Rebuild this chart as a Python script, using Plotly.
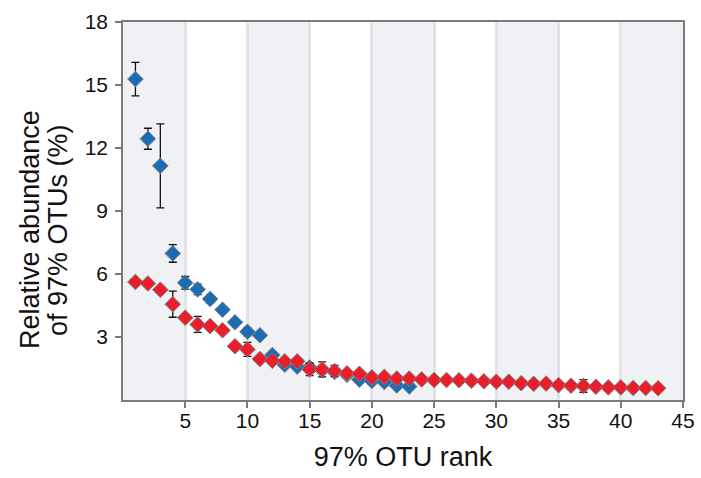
import plotly.graph_objects as go

# ---- data ----
blue_rank = list(range(1, 24))
blue_mean = [15.28, 12.44, 11.15, 6.98, 5.58, 5.27, 4.81, 4.30, 3.70, 3.25, 3.08, 2.14,
             1.68, 1.59, 1.55, 1.42, 1.33, 1.20, 0.97, 0.91, 0.86, 0.69, 0.64]
blue_err = [0.80, 0.50, 2.00, 0.42, 0.30, 0.25, 0.20, 0.15, 0.12, 0.20, 0.15, 0.12,
            0.12, 0.10, 0.12, 0.10, 0.10, 0.08, 0.10, 0.08, 0.08, 0.12, 0.12]

red_rank = list(range(1, 44))
red_mean = [5.62, 5.55, 5.25, 4.56, 3.92, 3.60, 3.52, 3.32, 2.56, 2.41, 1.95, 1.87,
            1.84, 1.84, 1.46, 1.46, 1.38, 1.27, 1.25, 1.08, 1.10, 1.02, 1.02, 0.98,
            0.95, 0.95, 0.94, 0.92, 0.89, 0.87, 0.87, 0.80, 0.77, 0.78, 0.71, 0.68,
            0.67, 0.63, 0.60, 0.60, 0.57, 0.57, 0.56]
red_err = [0.10, 0.10, 0.15, 0.62, 0.12, 0.38, 0.12, 0.10, 0.10, 0.33, 0.10, 0.10,
           0.12, 0.14, 0.30, 0.36, 0.27, 0.10, 0.08, 0.08, 0.08, 0.08, 0.08, 0.06,
           0.06, 0.06, 0.06, 0.06, 0.06, 0.06, 0.06, 0.06, 0.06, 0.10, 0.06, 0.06,
           0.30, 0.06, 0.06, 0.06, 0.06, 0.06, 0.06]

x_ticks = [5, 10, 15, 20, 25, 30, 35, 40, 45]
y_ticks = [3, 6, 9, 12, 15, 18]
y_title_lines = ["Relative abundance", "of 97% OTUs (%)"]
x_title = "97% OTU rank"

BLUE = "#1a6db5"
RED = "#ea1d2a"
AXIS = "#7a7a7a"
BAND = "#f0f1f4"
FONT = "Liberation Sans, Arial, sans-serif"

fig = go.Figure()

def add_series(x, y, e, color):
    fig.add_trace(go.Scatter(
        x=x, y=y, mode="markers",
        marker=dict(symbol="diamond", size=12, color=color,
                    line=dict(color="#808080", width=1)),
        error_y=dict(type="data", array=e, visible=True, color="#111111",
                     thickness=1.3, width=4),
        showlegend=False, cliponaxis=False,
    ))

add_series(blue_rank, blue_mean, blue_err, BLUE)
add_series(red_rank, red_mean, red_err, RED)

# alternating background bands every 5 ranks
edges = [0] + x_ticks
shapes = []
for i in range(len(edges) - 1):
    if i % 2 == 0:
        shapes.append(dict(type="rect", xref="x", yref="paper",
                           x0=edges[i], x1=edges[i + 1], y0=0, y1=1,
                           fillcolor=BAND, line=dict(width=0), layer="below"))

# two-line y title as rotated annotations (tighter line spacing)
annotations = []
for xp, line in zip([-0.166, -0.116], y_title_lines):
    annotations.append(dict(text=line, xref="paper", yref="paper",
                            x=xp, y=0.45, xanchor="center", yanchor="middle",
                            textangle=-90, showarrow=False,
                            font=dict(size=27, family=FONT, color="#111111")))

fig.update_layout(
    width=701, height=478,
    margin=dict(l=123, r=18, t=22, b=78),
    paper_bgcolor="white", plot_bgcolor="white",
    shapes=shapes, annotations=annotations,
    font=dict(family=FONT, color="#111111"),
    xaxis=dict(range=[0, 45], tickvals=x_ticks, ticks="outside", ticklen=6,
               tickcolor=AXIS, tickwidth=1.5, ticklabelstandoff=-5,
               showline=True, linecolor=AXIS, linewidth=1.5, mirror=True,
               showgrid=True, gridcolor="#e2e3e6", gridwidth=2.5,
               zeroline=False, tickfont=dict(size=21), automargin=False,
               title=dict(text=x_title, font=dict(size=27), standoff=16)),
    yaxis=dict(range=[0, 18], tickvals=y_ticks, ticks="outside", ticklen=6,
               tickcolor=AXIS, tickwidth=1.5, ticklabelstandoff=3,
               showline=True, linecolor=AXIS, linewidth=1.5, mirror=True,
               showgrid=False, zeroline=False, tickfont=dict(size=21),
               automargin=False),
)

fig.write_html("out.html", config={"displayModeBar": False},
               post_script="document.body.style.margin='0';document.body.style.overflow='hidden';")
